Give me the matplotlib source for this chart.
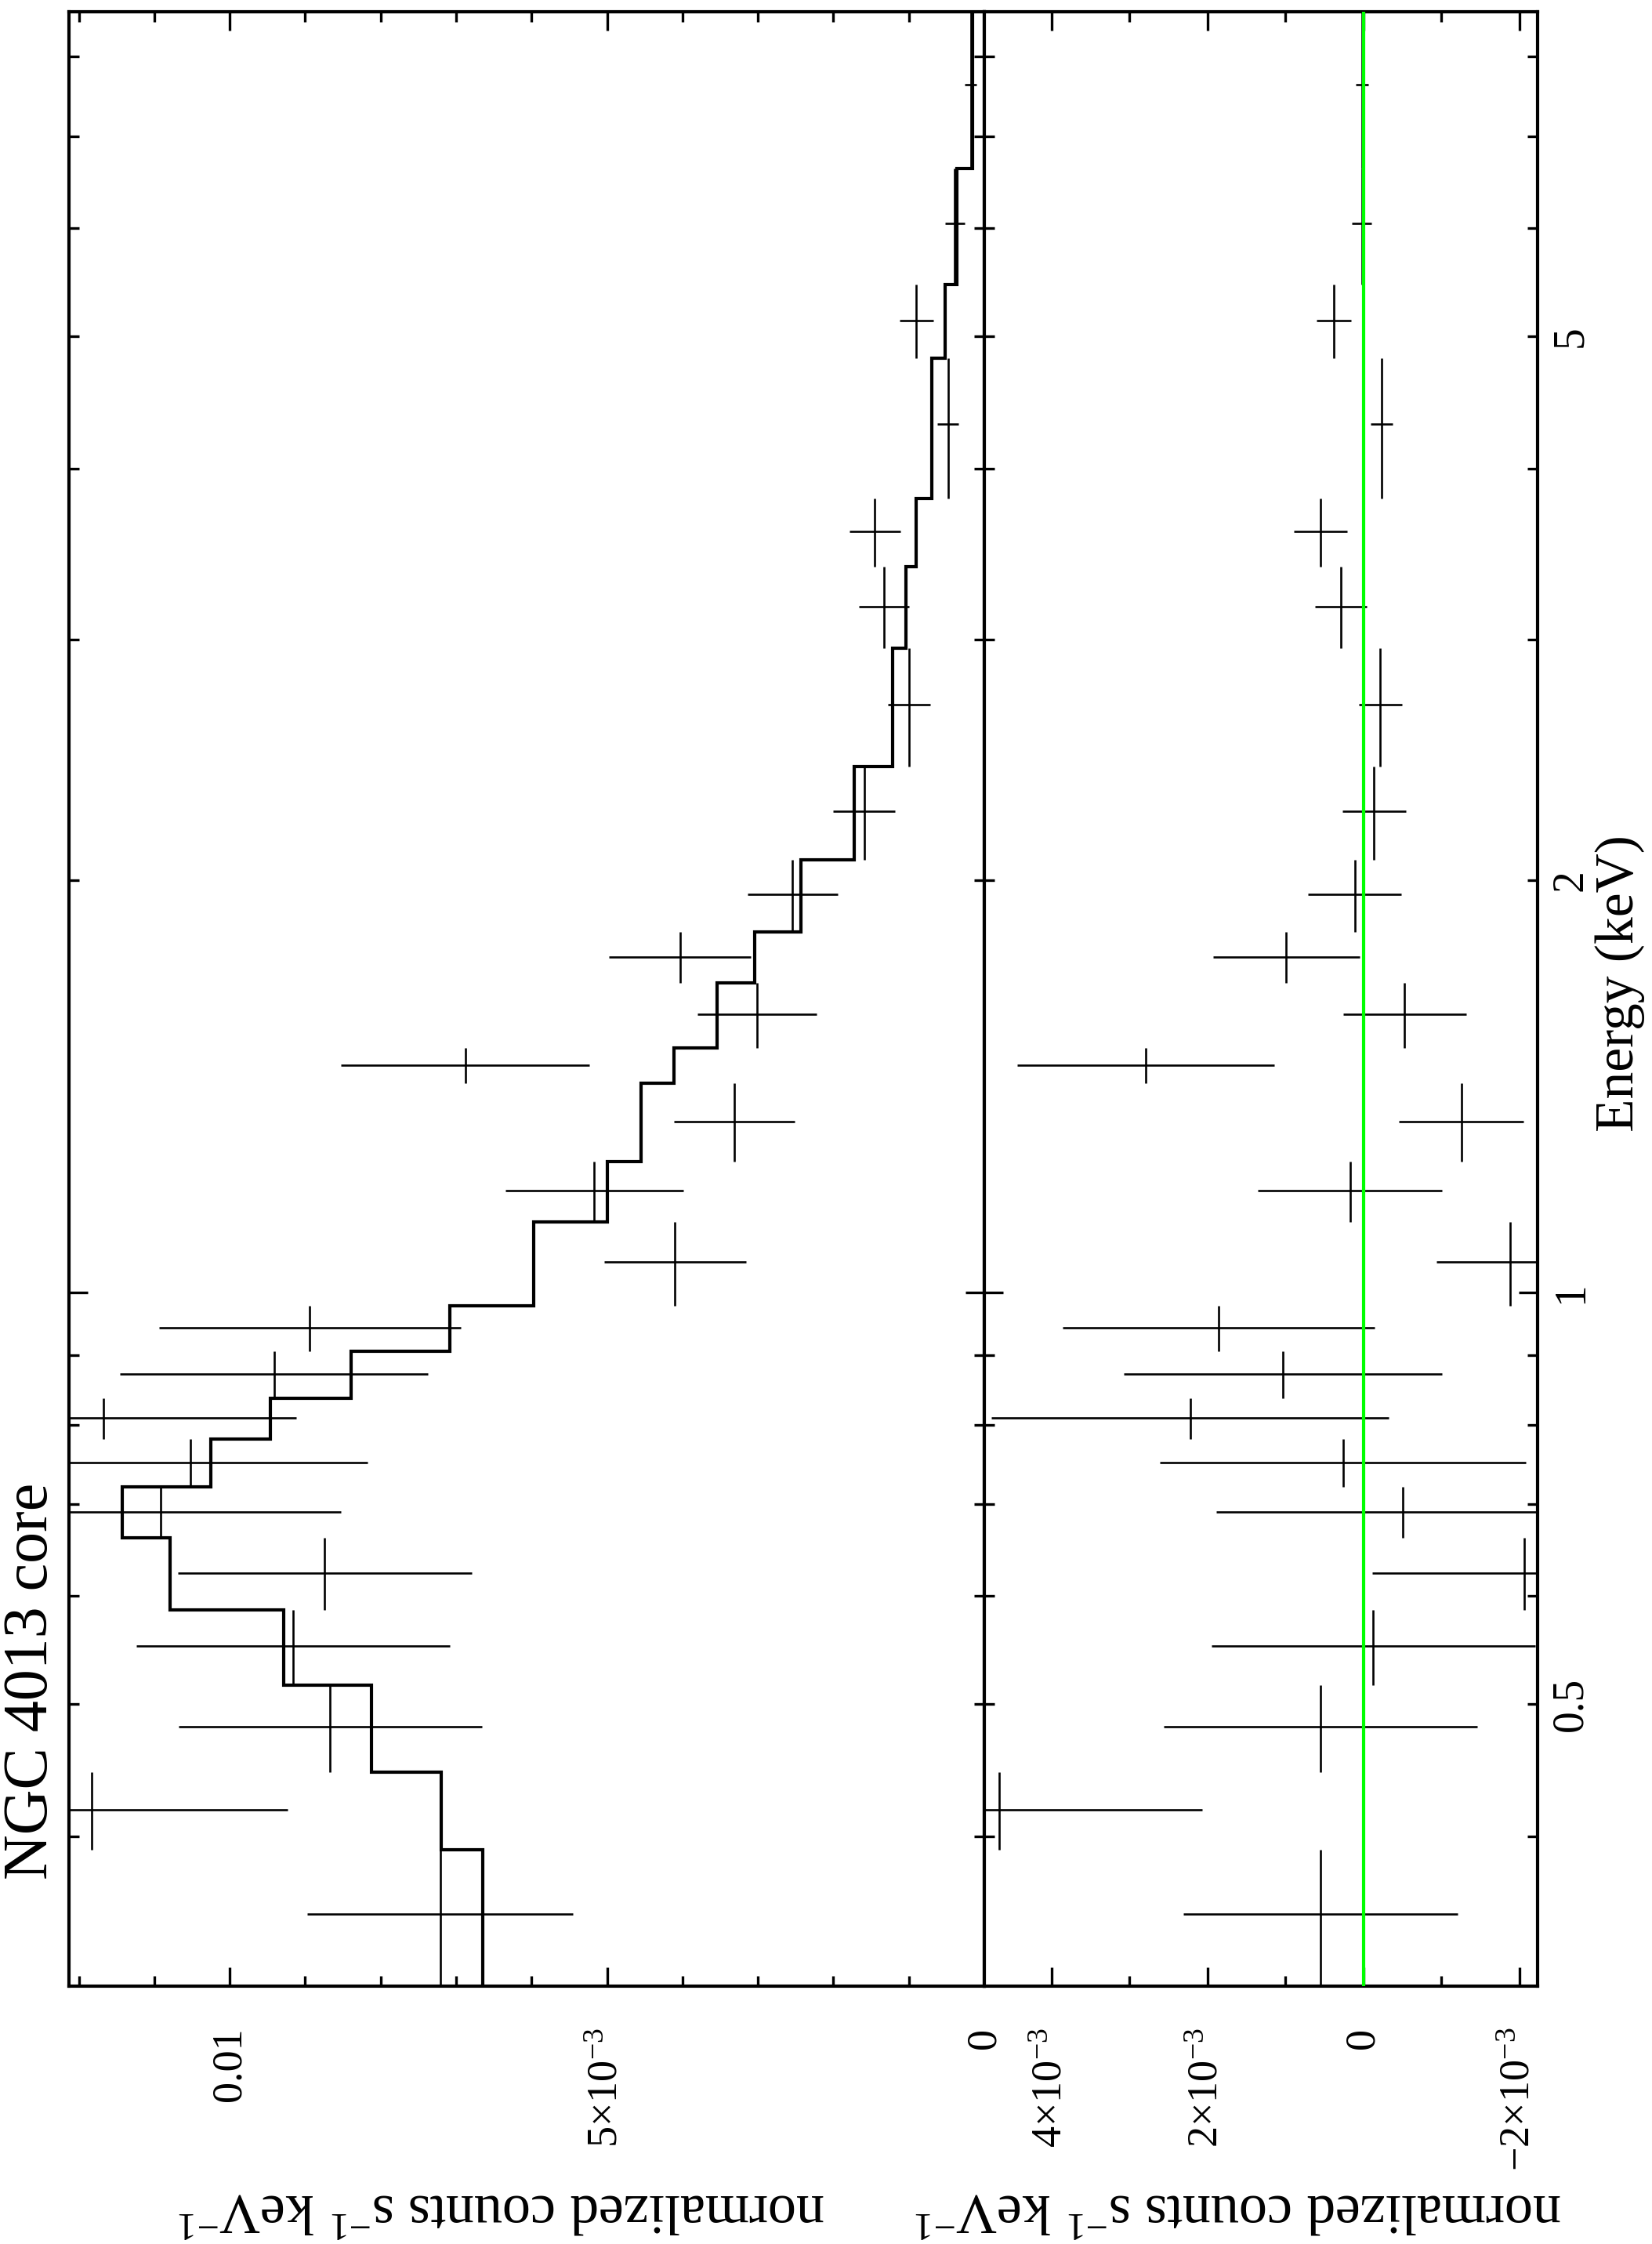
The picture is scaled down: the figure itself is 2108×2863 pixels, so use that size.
import numpy as np
import matplotlib
matplotlib.use("Agg")
import matplotlib.pyplot as plt
from matplotlib.ticker import FixedLocator, FuncFormatter, MultipleLocator, NullFormatter

plt.rcParams['font.family'] = ['Liberation Serif', 'DejaVu Serif']
plt.rcParams['mathtext.fontset'] = 'custom'
plt.rcParams['mathtext.rm'] = 'Liberation Serif'
plt.rcParams['mathtext.it'] = 'Liberation Serif:italic'

# energy bin edges (keV)
e_edges = [0.311, 0.391, 0.446, 0.516, 0.586, 0.661, 0.721, 0.781, 0.837, 0.906,
           0.978, 1.126, 1.246, 1.421, 1.508, 1.684, 1.834, 2.071, 2.421, 2.955,
           3.390, 3.804, 4.816, 5.450, 6.630, 8.630]
# normalized counts s^-1 keV^-1, in units of 1e-3
counts = [7.21, 11.83, 8.67, 9.16, 8.74, 10.92, 10.52, 11.67, 9.41, 8.94,
          4.10, 5.17, 3.31, 6.88, 3.01, 4.03, 2.54, 1.59, 1.00, 1.33,
          1.45, 0.48, 0.90, 0.39, 0.18]
count_err = [1.76, 2.60, 2.01, 2.08, 1.95, 2.39, 2.35, 2.55, 2.04, 2.00,
             0.94, 1.18, 0.80, 1.65, 0.79, 0.94, 0.60, 0.41, 0.28, 0.33,
             0.34, 0.14, 0.22, 0.13, 0.08]
model = [6.65, 7.20, 8.12, 9.28, 10.79, 11.42, 10.25, 9.46, 8.39, 7.08,
         5.97, 5.00, 4.55, 4.11, 3.54, 3.04, 2.43, 1.72, 1.22, 1.04,
         0.90, 0.70, 0.52, 0.365, 0.156]
# residuals (data - model), units of 1e-3
resid = [0.55, 4.67, 0.55, -0.13, -2.07, -0.51, 0.26, 2.22, 1.03, 1.85,
         -1.88, 0.17, -1.26, 2.79, -0.53, 0.99, 0.11, -0.14, -0.22, 0.29,
         0.55, -0.24, 0.38, 0.02, 0.02]

W, H = 2108, 2863
def fx(px):
    return px / W
def fy(py):
    return 1 - py / H

edges = np.array(e_edges)
e_lo, e_hi = edges[:-1], edges[1:]
e_mid = (e_lo + e_hi) / 2
yerr = [e_mid - e_lo, e_hi - e_mid]
scale = 1e-3

fig = plt.figure(figsize=(W / 100, H / 100), dpi=100)
ax1 = fig.add_axes([fx(88), fy(2534), (1256 - 88) / W, (2534 - 15) / H])
ax2 = fig.add_axes([fx(1256), fy(2534), (1962 - 1256) / W, (2534 - 15) / H])

lw_data = 1.9
lw_model = 3.0

ax1.errorbar(np.array(counts) * scale, e_mid, xerr=np.array(count_err) * scale, yerr=yerr,
             fmt='none', ecolor='k', elinewidth=lw_data, capsize=0)
ax1.stairs(np.array(model) * scale, edges, orientation='horizontal', baseline=None,
           color='k', lw=lw_model)

ax2.errorbar(np.array(resid) * scale, e_mid, xerr=np.array(count_err) * scale, yerr=yerr,
             fmt='none', ecolor='k', elinewidth=lw_data, capsize=0)
ax2.axvline(0, color='#00ff00', lw=3.0, zorder=5)

for ax in (ax1, ax2):
    ax.set_yscale('log')
    ax.set_ylim(0.311, 8.63)
    ax.yaxis.set_major_locator(FixedLocator([1]))
    ax.yaxis.set_minor_locator(FixedLocator([0.4, 0.5, 0.6, 0.7, 0.8, 0.9, 2, 3, 4, 5, 6, 7, 8]))
    ax.tick_params(which='both', direction='in', top=True, bottom=True, left=True, right=True,
                   width=2.4, labelrotation=90)
    ax.tick_params(which='major', length=17)
    ax.tick_params(which='minor', length=9.5)
    for s in ax.spines.values():
        s.set_linewidth(3.0)

ax1.set_xlim(12.13e-3, 0)
ax1.xaxis.set_major_locator(FixedLocator([0, 5e-3, 0.01]))
ax1.xaxis.set_minor_locator(MultipleLocator(1e-3))
ax1.xaxis.set_major_formatter(FuncFormatter(
    lambda v, p: {0: '0', 1: '5×10$^{-3}$', 2: '0.01'}[p]))
ax1.tick_params(axis='y', which='both', labelleft=False, labelright=False)

ax2.set_xlim(4.86e-3, -2.236e-3)
ax2.xaxis.set_major_locator(FixedLocator([-2e-3, 0, 2e-3, 4e-3]))
ax2.xaxis.set_minor_locator(MultipleLocator(1e-3))
ax2.xaxis.set_major_formatter(FuncFormatter(
    lambda v, p: ['\u22122×10$^{-3}$', '0', '2×10$^{-3}$', '4×10$^{-3}$'][p]))
ax2.tick_params(axis='y', which='both', labelleft=False, labelright=True, pad=12)
ax2.yaxis.set_major_formatter(FuncFormatter(lambda v, p: '1'))
ax2.yaxis.set_minor_formatter(FuncFormatter(
    lambda v, p: {0.5: '0.5', 2: '2', 5: '5'}.get(round(v, 2), '')))

for ax in (ax1, ax2):
    ax.tick_params(axis='x', which='major', labelsize=39, pad=38)
    ax.tick_params(axis='y', which='both', labelsize=40)
    ax.xaxis.set_minor_formatter(NullFormatter())
for t in ax2.get_yticklabels(which='both'):
    t.set_va('center')

ylab = r'normalized counts s$^{-1}$ keV$^{-1}$'
fig.text(fx(640), fy(2800), ylab, rotation=180, rotation_mode='anchor',
         ha='center', va='baseline', fontsize=52)
fig.text(fx(1580), fy(2800), ylab, rotation=180, rotation_mode='anchor',
         ha='center', va='baseline', fontsize=52)
fig.text(fx(2084), fy(1255), 'Energy (keV)', rotation=90, rotation_mode='anchor',
         ha='center', va='baseline', fontsize=50)
fig.text(fx(60), fy(2145), 'NGC 4013 core', rotation=90, rotation_mode='anchor',
         ha='center', va='baseline', fontsize=57.6)

fig.savefig('out.png', dpi=100)
